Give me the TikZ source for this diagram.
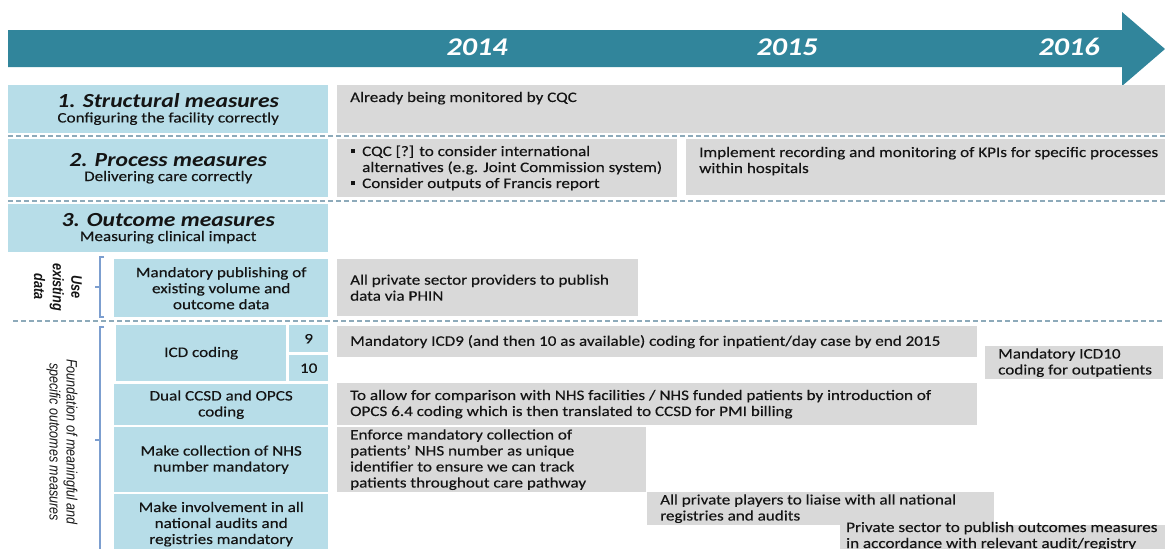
\documentclass[tikz,border=0pt]{standalone}
\usepackage{graphicx}
\usepackage{fontspec}
\setmainfont{Carlito}[FakeStretch=1.18, UprightFeatures={FakeBold=0.3}]
\newfontfamily\sidefont{Liberation Sans}

\definecolor{arrowteal}{RGB}{49,133,155}
\definecolor{measureblue}{RGB}{183,221,232}
\definecolor{planbox}{RGB}{217,217,217}
\definecolor{rulegrey}{RGB}{141,170,186}
\definecolor{bracketblue}{RGB}{124,158,207}
\definecolor{inktext}{RGB}{20,20,20}

\newcommand{\headfont}{\fontsize{20}{22}\selectfont\bfseries\itshape}
\newcommand{\bulletmark}{\makebox[11pt][l]{\raisebox{2.8pt}{\rule{3.8pt}{3.8pt}}}}
% rotated side captions: glyphs widened across the reading direction
\newcommand{\sidecaption}[1]{\scalebox{1}[1.2]{\begin{tabular}{@{}c@{}}#1\end{tabular}}}

\tikzset{
  every node/.style={font=\fontsize{14.5}{16}\selectfont, text=inktext},
  measure/.style={fill=measureblue, anchor=north west, inner sep=0pt, align=center},
  plan/.style={fill=planbox, anchor=north west, inner sep=0pt},
  plantext/.style={inner sep=0pt, align=left},
  year/.style={font=\fontsize{25.5}{28}\selectfont\bfseries\itshape, text=white, anchor=base},
  divider/.style={draw=rulegrey, line width=1.4pt, dash pattern=on 5pt off 3pt},
  brace/.style={draw=bracketblue, line width=1.3pt},
  sidelabel/.style={rotate=-90, inner sep=0pt},
}

\begin{document}
\begin{tikzpicture}[x=1pt,y=-1pt]
\useasboundingbox (0,0) rectangle (1165,549);
\clip (0,0) rectangle (1165,549);

% timeline arrow
\fill[arrowteal] (8,30) -- (1122,30) -- (1122,12) -- (1165,49) -- (1122,86)
  -- (1122,67) -- (8,67) -- cycle;
\node[year] (y14) at (477,55) {2014};
\node[year] (y15) at (787,55) {2015};
\node[year] (y16) at (1069,55) {2016};

% 1. structural measures
\node[measure, minimum width=320pt, minimum height=48pt] (m1) at (8,85)
  {{\headfont 1. Structural measures}\\[-1pt]Configuring the facility correctly};
\node[plan, minimum width=828pt, minimum height=48pt] (p1) at (337,85) {};
\node[plantext, anchor=base west] (t1) at (350,102) {Already being monitored by CQC};

\draw[divider] (8,136) -- (1165,136);

% 2. process measures
\node[measure, minimum width=320pt, minimum height=58pt] (m2) at (8,139)
  {{\headfont 2. Process measures}\\[-1pt]Delivering care correctly};
\node[plan, minimum width=340pt, minimum height=58pt] (p2a) at (337,139) {};
\node[plantext, anchor=base west] (t2a) at (351,188)
  {\bulletmark CQC [?] to consider international\\
   \hspace*{11pt}alternatives (e.g. Joint Commission system)\\
   \bulletmark Consider outputs of Francis report};
\node[plan, minimum width=479pt, minimum height=56pt] (p2b) at (686,139) {};
\node[plantext, anchor=base west] (t2b) at (699,173)
  {Implement recording and monitoring of KPIs for specific processes\\within hospitals};

\draw[divider] (8,201) -- (1165,201);

% 3. outcome measures
\node[measure, minimum width=320pt, minimum height=48pt] (m3) at (8,204)
  {{\headfont 3. Outcome measures}\\[-1pt]Measuring clinical impact};

% use existing data
\node[measure, minimum width=214pt, minimum height=58pt] (m4) at (114,259)
  {Mandatory publishing of\\existing volume and\\outcome data};
\node[plan, minimum width=301pt, minimum height=57pt] (p4) at (337,259) {};
\node[plantext, anchor=west] (t4) at ([xshift=13pt]p4.west)
  {All private sector providers to publish\\data via PHIN};
\draw[brace] (104,257) -- (100,257) -- (100,317) -- (104,317);
\draw[brace] (100,287) -- (95,287);
\node[sidelabel, font=\sidefont\fontsize{12.7}{15.5}\selectfont\bfseries\itshape]
  (useexisting) at (56.5,287) {\sidecaption{Use\\existing\\data}};

\draw[divider] (13,321) -- (1165,321);

% foundation of meaningful and specific outcomes measures
\node[measure, minimum width=170pt, minimum height=56pt] (icd) at (116,325) {ICD coding};
\node[measure, minimum width=39pt, minimum height=27pt] (icd9) at (289,325) {9};
\node[measure, minimum width=39pt, minimum height=26pt] (icd10) at (289,355) {10};
\node[plan, minimum width=640pt, minimum height=31pt] (p5) at (337,326) {};
\node[plantext, anchor=west] (t5) at ([xshift=13pt]p5.west)
  {Mandatory ICD9 (and then 10 as available) coding for inpatient/day case by end 2015};
\node[plan, minimum width=178pt, minimum height=33pt] (p5b) at (985,346) {};
\node[plantext, anchor=west] (t5b) at ([xshift=13pt]p5b.west)
  {Mandatory ICD10\\coding for outpatients};

\node[measure, minimum width=214pt, minimum height=41pt] (m6) at (114,384)
  {Dual CCSD and OPCS\\coding};
\node[plan, minimum width=640pt, minimum height=42pt] (p6) at (337,383) {};
\node[plantext, anchor=west] (t6) at ([xshift=13pt]p6.west)
  {To allow for comparison with NHS facilities / NHS funded patients by introduction of\\
   OPCS 6.4 coding which is then translated to CCSD for PMI billing};

\node[measure, minimum width=214pt, minimum height=65pt] (m7) at (114,427)
  {Make collection of NHS\\number mandatory};
\node[plan, minimum width=309pt, minimum height=65pt] (p7) at (337,427) {};
\node[plantext, anchor=west] (t7) at ([xshift=13pt]p7.west)
  {Enforce mandatory collection of\\patients’ NHS number as unique\\
   identifier to ensure we can track\\patients throughout care pathway};

\node[measure, minimum width=214pt, minimum height=60pt] (m8) at (114,494)
  {Make involvement in all\\national audits and\\registries mandatory};
\node[plan, minimum width=347pt, minimum height=33pt] (p8a) at (647,492) {};
\node[plantext, anchor=west] (t8a) at ([xshift=13pt]p8a.west)
  {All private players to liaise with all national\\registries and audits};
\node[plan, minimum width=325pt, minimum height=30pt] (p8b) at (840,525) {};
\node[plantext, anchor=base west] (t8b) at (846,548)
  {Private sector to publish outcomes measures\\in accordance with relevant audit/registry};

\draw[brace] (104,327) -- (100,327) -- (100,560);
\draw[brace] (100,440) -- (95,440);
\node[sidelabel, font=\sidefont\fontsize{12.5}{14.2}\selectfont\itshape]
  (foundation) at (61.5,442) {\sidecaption{Foundation of meaningful and\\specific outcomes measures}};
\end{tikzpicture}
\end{document}
